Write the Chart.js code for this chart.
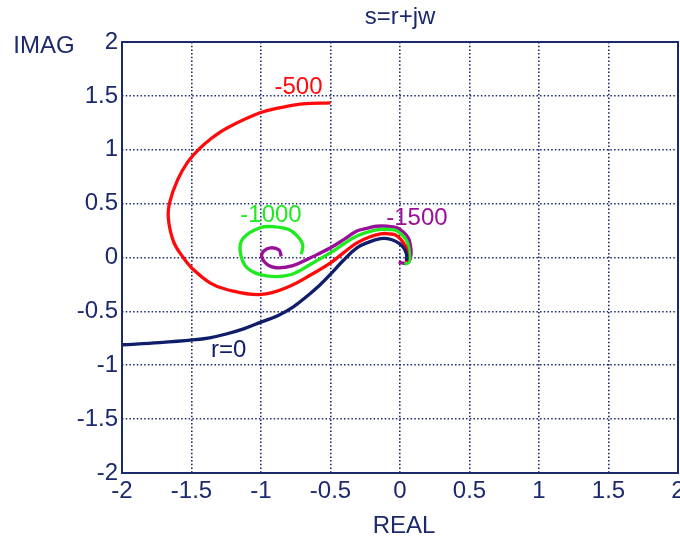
<!DOCTYPE html>
<html lang="en">
<head>
<meta charset="UTF-8">
<title>s=r+jw</title>
<script src="https://cdn.jsdelivr.net/npm/chart.js"></script>
<style>
    body { margin: 0; background: #fff; }
    canvas { display: block; }
</style>
</head>
<body>
<canvas id="chart" width="680" height="539"></canvas>
<script>
    // axis ticks
    const axisTicks = [-2, -1.5, -1, -0.5, 0, 0.5, 1, 1.5, 2];

    // r = 0
    const r0Real = [0.05, 0.045, 0.02, -0.03, -0.09, -0.14, -0.22, -0.31, -0.41, -0.50, -0.58, -0.67, -0.77, -0.88, -1.00, -1.12, -1.25, -1.37, -1.49, -1.73, -2.0];
    const r0Imag = [-0.03, 0.04, 0.10, 0.15, 0.175, 0.175, 0.145, 0.09, -0.03, -0.155, -0.26, -0.36, -0.46, -0.54, -0.60, -0.66, -0.71, -0.745, -0.765, -0.79, -0.81];

    // r = -500
    const r500Real = [0.045, 0.05, 0.04, -0.02, -0.08, -0.14, -0.22, -0.31, -0.40, -0.50, -0.64, -0.79, -1.00, -1.247, -1.367, -1.50, -1.56, -1.63, -1.667, -1.655, -1.60, -1.53, -1.45, -1.367, -1.247, -1.007, -0.863, -0.70, -0.50];
    const r500Imag = [-0.04, 0.03, 0.105, 0.20, 0.22, 0.22, 0.19, 0.135, 0.05, -0.05, -0.16, -0.265, -0.343, -0.297, -0.235, -0.095, 0.0, 0.15, 0.37, 0.52, 0.72, 0.88, 1.0, 1.095, 1.20, 1.343, 1.39, 1.425, 1.435];

    // r = -1000
    const r1000Real = [0.035, 0.065, 0.07, 0.05, -0.02, -0.08, -0.14, -0.22, -0.31, -0.40, -0.50, -0.64, -0.79, -0.96, -1.10, -1.15, -1.127, -1.007, -0.90, -0.80, -0.74, -0.70, -0.71];
    const r1000Imag = [-0.065, -0.04, 0.0, 0.15, 0.245, 0.26, 0.26, 0.24, 0.2, 0.13, 0.045, -0.06, -0.16, -0.17, -0.096, 0.06, 0.18, 0.276, 0.285, 0.26, 0.2, 0.12, 0.03];

    // r = -1500
    const r1500Real = [-0.01, 0.03, 0.065, 0.08, 0.075, 0.06, 0.02, -0.02, -0.09, -0.17, -0.24, -0.31, -0.40, -0.50, -0.64, -0.77, -0.89, -0.96, -0.995, -0.98, -0.93, -0.87, -0.855];
    const r1500Imag = [-0.04, -0.055, -0.04, 0.04, 0.11, 0.18, 0.24, 0.275, 0.29, 0.29, 0.27, 0.245, 0.17, 0.09, 0.0, -0.075, -0.095, -0.06, 0.01, 0.06, 0.09, 0.07, 0.01];

    const curveNames = ['r=0', '-500', '-1000', '-1500'];

    const navy = '#1c2a6c';
    const font = '"Liberation Sans", Arial, sans-serif';

    function pts(xs, ys) {
        return xs.map((x, i) => ({ x: x, y: ys[i] }));
    }

    function curve(name, xs, ys, color, at) {
        return {
            label: name,
            data: pts(xs, ys),
            borderColor: color,
            borderWidth: 3.3,
            pointRadius: 0,
            showLine: true,
            tension: 0.4,
            fill: false,
            labelAt: at
        };
    }

    // text over the plot: title, axis names, curve names, box
    const textPlugin = {
        id: 'texts',
        afterDraw(chart) {
            const ctx = chart.ctx;
            const a = chart.chartArea;
            const sx = chart.scales.x, sy = chart.scales.y;
            ctx.save();
            ctx.strokeStyle = navy;
            ctx.lineWidth = 2;
            ctx.strokeRect(a.left, a.top, a.right - a.left, a.bottom - a.top);

            ctx.font = '24px ' + font;
            ctx.textAlign = 'center';
            ctx.textBaseline = 'alphabetic';
            ctx.fillStyle = navy;
            ctx.fillText('s=r+jw', (a.left + a.right) / 2, 24);
            ctx.fillText('IMAG', 44, 53);
            ctx.fillText('REAL', (a.left + a.right) / 2 + 4, 533);

            chart.data.datasets.forEach(ds => {
                ctx.fillStyle = ds.borderColor;
                ctx.fillText(ds.label, sx.getPixelForValue(ds.labelAt[0]), sy.getPixelForValue(ds.labelAt[1]));
            });
            ctx.restore();
        }
    };

    function axis(pos) {
        return {
            type: 'linear',
            position: pos,
            min: -2,
            max: 2,
            afterBuildTicks: s => { s.ticks = axisTicks.map(v => ({ value: v })); },
            afterFit: s => {
                if (pos === 'left') {
                    s.width = 122;
                    s.paddingTop = 0;
                    s.paddingBottom = 0;
                } else {
                    s.height = 66;
                    s.paddingLeft = 0;
                    s.paddingRight = 0;
                }
            },
            grid: { color: navy, lineWidth: 1.6, drawTicks: false },
            border: { display: false, dash: [1.5, 2.2] },
            ticks: {
                color: navy,
                padding: 4,
                font: { family: font, size: 24 },
                callback: v => String(+v.toFixed(1))
            }
        };
    }

    new Chart(document.getElementById('chart'), {
        type: 'scatter',
        data: {
            datasets: [
                curve(curveNames[0], r0Real, r0Imag, '#0f1d6a', [-1.232, -0.928]),
                curve(curveNames[1], r500Real, r500Imag, '#ff0a0a', [-0.73, 1.513]),
                curve(curveNames[2], r1000Real, r1000Imag, '#1eea1e', [-0.928, 0.334]),
                curve(curveNames[3], r1500Real, r1500Imag, '#9a0f9a', [0.122, 0.297])
            ]
        },
        options: {
            responsive: false,
            animation: false,
            layout: { padding: { top: 42, right: 2, left: 0, bottom: 0 } },
            plugins: {
                legend: { display: false },
                tooltip: { enabled: false }
            },
            scales: {
                x: axis('bottom'),
                y: axis('left')
            }
        },
        plugins: [textPlugin]
    });
</script>
</body>
</html>
